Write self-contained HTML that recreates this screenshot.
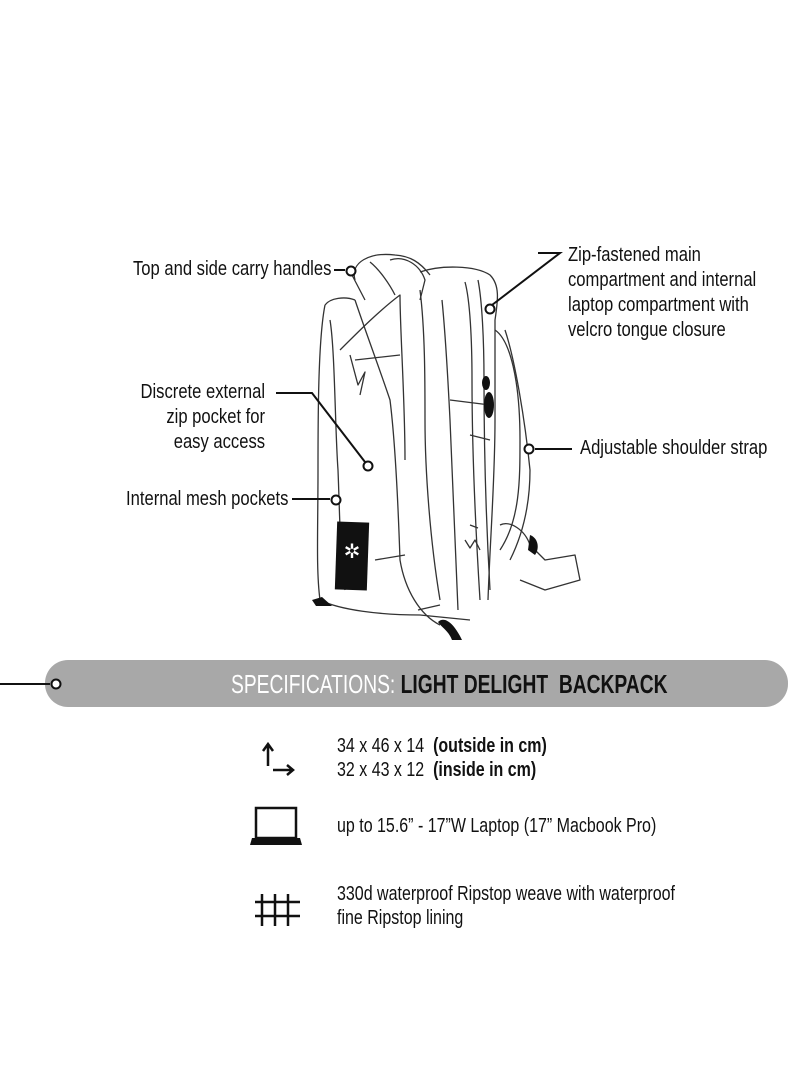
<!DOCTYPE html>
<html><head><meta charset="utf-8"><style>
html,body{margin:0;padding:0;background:#fff;}
body{width:800px;height:1091px;position:relative;overflow:hidden;font-family:"Liberation Sans Narrow","Liberation Sans",sans-serif;color:#111;}
.t{position:absolute;font-size:20px;line-height:25px;white-space:nowrap;transform-origin:0 0;transform:scaleX(0.83);}
.r{transform-origin:100% 0;text-align:right;}
svg{position:absolute;left:0;top:0;}
</style></head><body>
<svg width="800" height="1091" viewBox="0 0 800 1091">
<g fill="none" stroke="#333" stroke-width="1.3" stroke-linejoin="round">
<path d="M355 280 C350 262 370 252 395 255 C410 256 420 262 430 275"/>
<path d="M352 275 L365 300 M370 262 C380 270 390 285 395 295"/>
<path d="M390 260 C405 255 420 265 425 280 L420 300"/>
<path d="M420 272 C440 265 475 265 490 275 C500 285 498 300 495 320 L495 420 C495 480 490 540 488 600"/>
<path d="M325 305 C330 298 345 296 355 300"/>
<path d="M325 305 C318 340 318 420 318 470 C318 530 316 570 320 600 C340 610 380 615 420 615 L470 620"/>
<path d="M330 320 C335 350 335 430 338 470 C340 520 340 560 345 590"/>
<path d="M340 350 C360 330 380 310 400 295 C400 330 405 400 405 460"/>
<path d="M355 300 C365 330 380 370 390 400 C395 440 398 500 400 560 C405 590 420 615 440 625"/>
<path d="M420 290 C425 330 425 380 425 420 C425 470 430 540 440 600"/>
<path d="M442 300 C445 330 448 380 450 420 C452 480 455 540 458 610"/>
<path d="M465 282 C470 300 472 340 472 380 C472 450 475 520 480 600"/>
<path d="M478 280 C482 300 484 340 484 380 C484 450 486 520 490 590"/>
<path d="M355 360 L400 355 M350 355 L358 385 L365 372 L360 395"/>
<path d="M450 400 L490 405 M470 435 L490 440"/>
<path d="M495 330 C510 340 520 380 520 440 C520 480 520 520 500 550"/>
<path d="M505 330 C515 360 525 420 530 470 C530 510 520 540 510 560"/>
<path d="M500 525 C510 520 525 530 530 545 L545 560 L575 555 L580 580 L545 590 L520 580"/>
<path d="M470 525 L478 528 M465 540 L470 548 L475 540 L480 550"/>
<path d="M375 560 L405 555 M418 610 L440 605"/>
</g>
<rect x="336" y="522" width="32" height="68" fill="#111" transform="rotate(2 352 556)"/>
<text x="352" y="558" fill="#fff" font-size="20" text-anchor="middle" font-family="DejaVu Sans">✲</text>
<g fill="#111">
<path d="M312 600 L322 597 L332 606 L316 606Z"/>
<path d="M438 622 C445 615 455 625 462 640 L452 640 C448 630 442 628 438 622Z"/>
<path d="M530 535 C538 538 540 548 535 555 L528 550Z"/>
<ellipse cx="486" cy="383" rx="4" ry="7"/>
<ellipse cx="489" cy="405" rx="5" ry="13"/>
</g>
<g fill="none" stroke="#111" stroke-width="2">
<path d="M334 270 L345 270"/><circle cx="351" cy="271" r="4.5" fill="#fff"/>
<path d="M538 253 L560 253 L492 305"/><circle cx="490" cy="309" r="4.5" fill="#fff"/>
<path d="M276 393 L312 393 L365 462"/><circle cx="368" cy="466" r="4.5" fill="#fff"/>
<path d="M292 499 L330 499"/><circle cx="336" cy="500" r="4.5" fill="#fff"/>
<path d="M535 449 L572 449"/><circle cx="529" cy="449" r="4.5" fill="#fff"/>
</g>
<rect x="45" y="660" width="743" height="47" rx="23" fill="#a8a8a8"/>
<path d="M0 684 L50 684" stroke="#111" stroke-width="2"/>
<circle cx="56" cy="684" r="4.5" fill="#fff" stroke="#111" stroke-width="2"/>
<g stroke="#111" stroke-width="2.5" fill="none">
<path d="M268 766 L268 745 M263 751 L268 744 L273 751"/>
<path d="M273 770 L292 770 M287 765 L293 770 L287 775"/>
<rect x="256" y="808" width="40" height="30"/>
<path d="M262 894 L262 926 M275 894 L275 926 M255 902 L300 902 M255 916 L300 916 M288 894 L288 926"/>
</g>
<path d="M252 838 L300 838 L302 845 L250 845Z" fill="#111"/>
</svg>
<div class="t" style="left:133px;top:257px;">Top and side carry handles</div>
<div class="t" style="left:568px;top:243px;">Zip-fastened main<br>compartment and internal<br>laptop compartment with<br>velcro tongue closure</div>
<div class="t r" style="right:535px;top:380px;">Discrete external<br>zip pocket for<br>easy access</div>
<div class="t" style="left:126px;top:487px;">Internal mesh pockets</div>
<div class="t" style="left:580px;top:436px;">Adjustable shoulder strap</div>
<div class="t" style="left:231px;top:668px;font-size:26px;line-height:32px;transform:scaleX(0.74);"><span style="color:#fff">SPECIFICATIONS:</span> <b>LIGHT DELIGHT&nbsp; BACKPACK</b></div>
<div class="t" style="left:337px;top:734px;line-height:24px;transform:scaleX(0.8);">34 x 46 x 14 &nbsp;<b>(outside in cm)</b><br>32 x 43 x 12 &nbsp;<b>(inside in cm)</b></div>
<div class="t" style="left:337px;top:814px;transform:scaleX(0.8);">up to 15.6” - 17”W Laptop (17” Macbook Pro)</div>
<div class="t" style="left:337px;top:882px;line-height:24px;transform:scaleX(0.8);">330d waterproof Ripstop weave with waterproof<br>fine Ripstop lining</div>
</body></html>
